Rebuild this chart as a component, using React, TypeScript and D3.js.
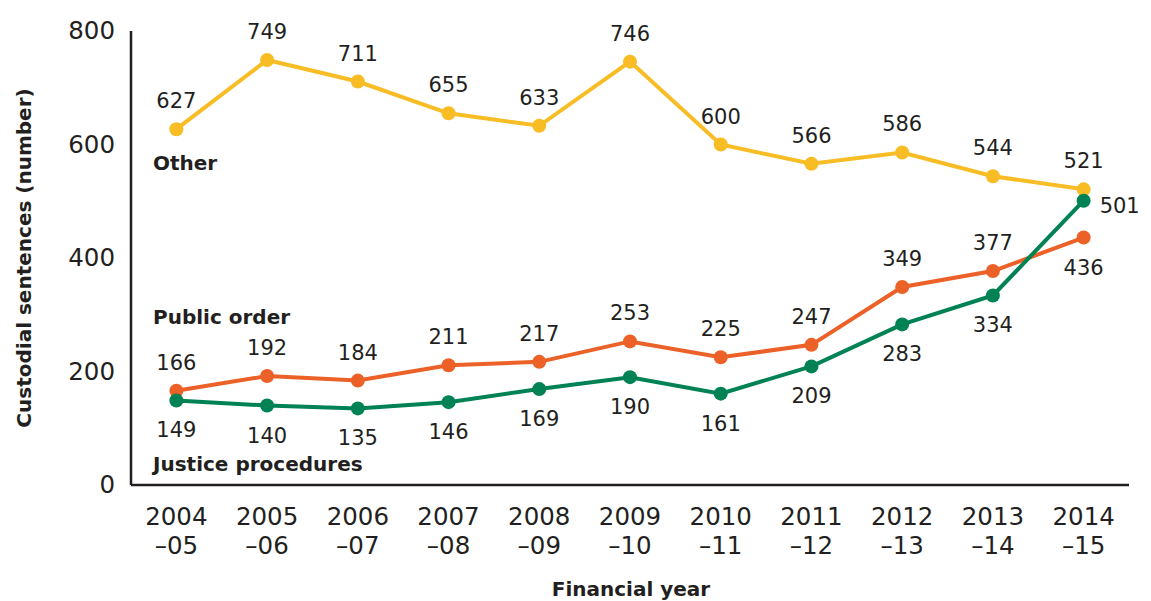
import React from "react";
import * as d3 from "d3";

const years = ["2004\n–05", "2005\n–06", "2006\n–07", "2007\n–08", "2008\n–09", "2009\n–10", "2010\n–11", "2011\n–12", "2012\n–13", "2013\n–14", "2014\n–15"];
const other = [627, 749, 711, 655, 633, 746, 600, 566, 586, 544, 521];
const publicOrder = [166, 192, 184, 211, 217, 253, 225, 247, 349, 377, 436];
const justice = [149, 140, 135, 146, 169, 190, 161, 209, 283, 334, 501];
const yTicks = [0, 200, 400, 600, 800];

// label placement per point: "a" above, "b" below, "r" right
const otherPos = ["a", "a", "a", "a", "a", "a", "a", "a", "a", "a", "a"];
const publicPos = ["a", "a", "a", "a", "a", "a", "a", "a", "a", "a", "b"];
const justicePos = ["b", "b", "b", "b", "b", "b", "b", "b", "b", "b", "r"];

const W = 1151, H = 601;
const left = 131, right = 1129, top = 31, bottom = 485;
const FONT = "'DejaVu Sans', Verdana, sans-serif";
const TXT = "#231f20";

export default function App() {
  const x = d3.scalePoint<number>().domain(d3.range(years.length)).range([left, right]).padding(0.5);
  const y = d3.scaleLinear().domain([0, 800]).range([bottom, top]);
  const line = d3.line<number>().x((_, i) => x(i)!).y((d) => y(d));

  const series = [
    { name: "Other", data: other, pos: otherPos, color: "#F8BD25" },
    { name: "Public order", data: publicOrder, pos: publicPos, color: "#EC6127" },
    { name: "Justice procedures", data: justice, pos: justicePos, color: "#008254" },
  ];

  return (
    <svg width={W} height={H} style={{ position: "absolute", left: 0, top: 0, background: "#fff" }} fontFamily={FONT}>
      {yTicks.map((t) => (
        <text key={t} x={left - 16} y={y(t) + 8} textAnchor="end" fontSize={24.5} fill={TXT}>{t}</text>
      ))}
      <line x1={left} x2={left} y1={top} y2={bottom} stroke={TXT} strokeWidth={2.5} />
      <line x1={left} x2={right} y1={bottom} y2={bottom} stroke={TXT} strokeWidth={2.5} />
      {years.map((yr, i) => {
        const [a, b] = yr.split("\n");
        return (
          <text key={yr} x={x(i)} textAnchor="middle" fontSize={24.5} fill={TXT}>
            <tspan x={x(i)} y={525}>{a}</tspan>
            <tspan x={x(i)} y={554}>{b}</tspan>
          </text>
        );
      })}
      <text x={631} y={596} textAnchor="middle" fontSize={20} fontWeight="bold" fill={TXT}>Financial year</text>
      <text transform={`translate(31,${258}) rotate(-90)`} textAnchor="middle" fontSize={20} fontWeight="bold" fill={TXT}>Custodial sentences (number)</text>

      {series.map((s) => (
        <g key={s.name}>
          <path d={line(s.data)!} fill="none" stroke={s.color} strokeWidth={4} />
          {s.data.map((v, i) => (
            <circle key={i} cx={x(i)} cy={y(v)} r={7} fill={s.color} />
          ))}
        </g>
      ))}
      {series.map((s) =>
        s.data.map((v, i) => {
          const p = s.pos[i];
          const px = x(i)!, py = y(v);
          if (p === "r")
            return <text key={s.name + i} x={px + 16} y={py + 12} fontSize={21} fill={TXT}>{v}</text>;
          return (
            <text key={s.name + i} x={px} y={p === "a" ? py - 21 : py + 37} textAnchor="middle" fontSize={21} fill={TXT}>{v}</text>
          );
        })
      )}
      <text x={153} y={170} fontSize={20} fontWeight="bold" fill={TXT}>Other</text>
      <text x={153} y={324} fontSize={20} fontWeight="bold" fill={TXT}>Public order</text>
      <text x={153} y={471} fontSize={20} fontWeight="bold" fill={TXT}>Justice procedures</text>
    </svg>
  );
}
